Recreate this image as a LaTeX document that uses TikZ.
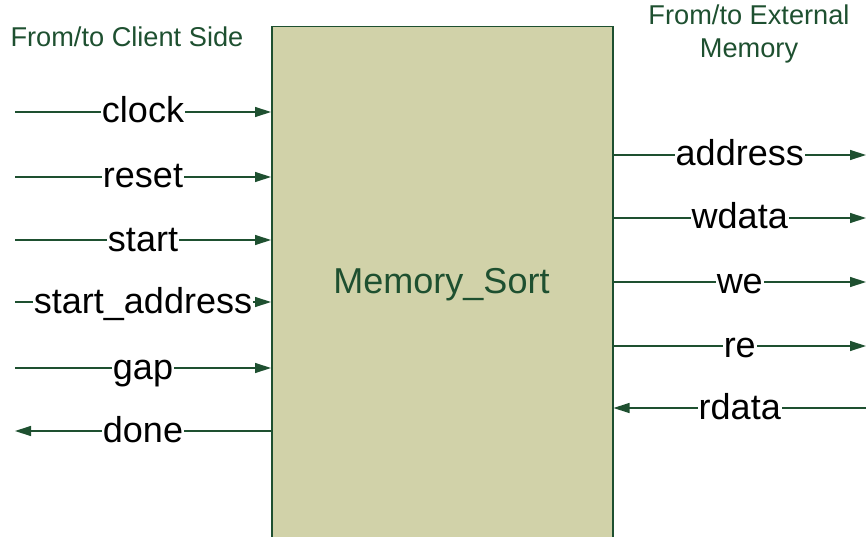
\documentclass[tikz,border=0pt]{standalone}
\usepackage{fontspec}
\setmainfont{Liberation Sans}
\usetikzlibrary{arrows.meta}
\definecolor{dkgreen}{HTML}{1E5030}
\definecolor{boxfill}{HTML}{D1D2A9}
\begin{document}
\begin{tikzpicture}[x=1pt,y=-1pt,
  sig/.style={draw=dkgreen,line width=1.3pt,-{Triangle[length=16pt,width=10pt]}},
  lbl/.style={fill=white,inner sep=1pt,text=black,text height=26pt,text depth=4pt,font=\fontsize{36}{42}\selectfont},
  hdr/.style={text=dkgreen,font=\fontsize{27.2}{32}\selectfont,align=center},
  blk/.style={draw=dkgreen,fill=boxfill,line width=1.5pt,minimum width=341pt,minimum height=514pt,inner sep=0pt,anchor=north west}]
\useasboundingbox (0,0) rectangle (866,537);
\clip (0,0) rectangle (866,537);
\node[blk] (ms) at (271,26) {};
\node[text=dkgreen,text height=26pt,text depth=4pt,font=\fontsize{36}{42}\selectfont] (title) at (441.5,282) {Memory\_Sort};
\node[hdr,anchor=west] (hl) at (7,37) {From/to Client Side};
\node[hdr] (hr) at (749,34) {From/to External\\[1pt]Memory};
% left side
\coordinate (l1) at (15,112);
\coordinate (l2) at (15,177);
\coordinate (l3) at (15,240);
\coordinate (l4) at (15,302);
\coordinate (l5) at (15,368);
\coordinate (l6) at (15,431);
\draw[sig] (l1) -- node[lbl]{clock} (ms.west |- l1);
\draw[sig] (l2) -- node[lbl]{reset} (ms.west |- l2);
\draw[sig] (l3) -- node[lbl]{start} (ms.west |- l3);
\draw[sig] (l4) -- node[lbl]{start\_address} (ms.west |- l4);
\draw[sig] (l5) -- node[lbl]{gap} (ms.west |- l5);
\draw[sig] (ms.west |- l6) -- node[lbl]{done} (l6);
% right side
\coordinate (r1) at (866,155);
\coordinate (r2) at (866,218);
\coordinate (r3) at (866,282);
\coordinate (r4) at (866,346);
\coordinate (r5) at (866,408);
\draw[sig] (ms.east |- r1) -- node[lbl]{address} (r1);
\draw[sig] (ms.east |- r2) -- node[lbl]{wdata} (r2);
\draw[sig] (ms.east |- r3) -- node[lbl]{we} (r3);
\draw[sig] (ms.east |- r4) -- node[lbl]{re} (r4);
\draw[sig] (r5) -- node[lbl]{rdata} (ms.east |- r5);
\end{tikzpicture}
\end{document}
